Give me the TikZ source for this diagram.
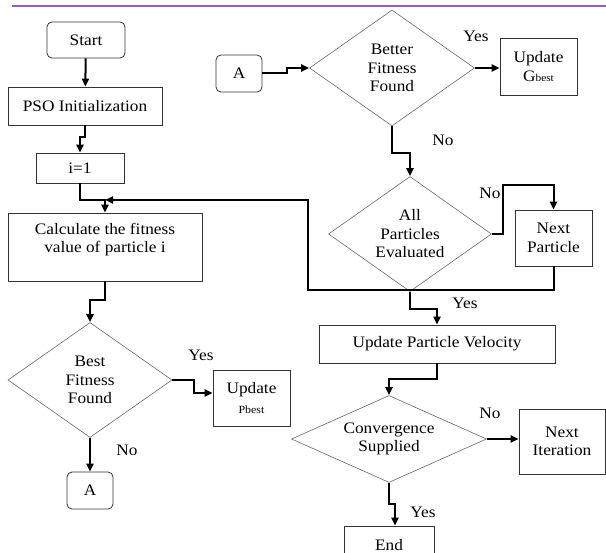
\documentclass[tikz,border=0pt]{standalone}
\usepackage{fontspec}
\setmainfont{Liberation Serif}[FakeStretch=1.08]
\usetikzlibrary{calc,arrows.meta,shapes.geometric}
\definecolor{rule}{RGB}{150,90,200}

\begin{document}
\begin{tikzpicture}[x=1pt,y=-1pt]
                      \tikzstyle{txt}=[font=\fontsize{16}{18.5}\selectfont]
                      \tikzstyle{box}=[txt,draw=black!80,line width=0.8pt,inner sep=0pt,align=center]
                      \tikzstyle{term}=[box,rounded corners=5pt]
                      \tikzstyle{test}=[txt,diamond,draw=black!60,line width=0.6pt,inner sep=0pt,align=center]
                      \tikzstyle{link}=[line width=2pt,-{Triangle[length=8pt,width=7pt]}]
                      \useasboundingbox (0,0) rectangle (606,553);
                      \draw[rule,line width=1.5pt] (12,6) -- (606,6);
                      % left column
                      \node[term,minimum width=78pt,minimum height=36pt] (start) at (86,40) {Start};
                      \node[box,minimum width=154pt,minimum height=38pt] (init) at (85,106) {PSO Initialization};
                      \node[box,minimum width=88pt,minimum height=30pt] (one) at (80,168) {i=1};
                      \node[box,minimum width=194pt,minimum height=68pt,text depth=18pt] (calc) at (105,247) {Calculate the fitness\\value of particle i};
                      \node[test,aspect=1.43,minimum width=164pt,minimum height=115pt] (pbtest) at (90,380) {Best\\Fitness\\Found};
                      \node[box,minimum width=77pt,minimum height=56pt] (pbest) at (251.5,398) {Update\\[2pt]{\fontsize{11}{11}\selectfont Pbest}};
                      \node[term,minimum width=46pt,minimum height=37pt] (a1) at (90,490.5) {A};
                      % right column
                      \node[term,minimum width=46pt,minimum height=37pt] (a2) at (239,73.5) {A};
                      \node[test,aspect=1.42,minimum width=165pt,minimum height=116pt] (gbtest) at (392,68) {Better\\Fitness\\Found};
                      \node[box,minimum width=77pt,minimum height=57pt] (gbest) at (538.5,66.5) {Update\\G{\fontsize{10.5}{10.5}\selectfont best}};
                      \node[test,aspect=1.42,minimum width=163pt,minimum height=115pt] (alltest) at (410,234) {All\\Particles\\Evaluated};
                      \node[box,minimum width=77pt,minimum height=56pt] (nextp) at (553.5,238) {Next\\Particle};
                      \node[box,minimum width=236pt,minimum height=38pt] (vel) at (437,344) {Update Particle Velocity};
                      \node[test,aspect=2.24,minimum width=195pt,minimum height=87pt] (conv) at (389,439) {Convergence\\Supplied};
                      \node[box,minimum width=86pt,minimum height=65pt] (nexti) at (562,441.5) {Next\\Iteration};
                      \node[box,minimum width=90pt,minimum height=38pt] (stop) at (389,545) {End};
                      \coordinate (merge) at (105,200);
                      \coordinate (nptop) at (553.5,185);
                      % connectors
                      \draw[link] (start) -- (init);
                      \draw[link] (init.south) -- ++(0,12) -| (one.north);
                      \draw[link] (one.south) |- (merge) -- (calc.north);
                      \draw[link] (nextp.south) |- (308,290) |- (merge);
                      \draw[link] (calc.south) -- ++(0,19) -| (pbtest.north);
                      \draw[link] (pbtest.east) -- ++(22,0) |- ([yshift=5pt]pbest.west);
                      \draw[link] (pbtest.south) -- (a1.north);
                      \draw[link] (a2.east) -- ++(25,0) |- (gbtest.west);
                      \draw[link] (gbtest.east) -- (gbtest.east -| gbest.west);
                      \draw[link] (gbtest.south) -- ++(0,27) -| (alltest.north);
                      \draw[link] (alltest.east) -- ++(11,0) |- (nptop) -- (nextp.north);
                      \draw[link] (alltest.south) -- ++(0,17) -| (vel.north);
                      \draw[link] (vel.south) -- ++(0,16) -| (conv.north);
                      \draw[link] (conv.east) -- (conv.east -| nexti.west);
                      \draw[link] (conv.south) -- ++(0,21) -| ([xshift=6pt]stop.north);
                      % branch labels
                      \node[txt] (y1) at (201,355) {Yes};
                      \node[txt] (n1) at (127,450) {No};
                      \node[txt] (y2) at (476,36) {Yes};
                      \node[txt] (n2) at (443,140) {No};
                      \node[txt] (n3) at (490,193) {No};
                      \node[txt] (y3) at (465,303) {Yes};
                      \node[txt] (n4) at (490,413) {No};
                      \node[txt] (y4) at (423,512) {Yes};
                  \end{tikzpicture}
\end{document}
